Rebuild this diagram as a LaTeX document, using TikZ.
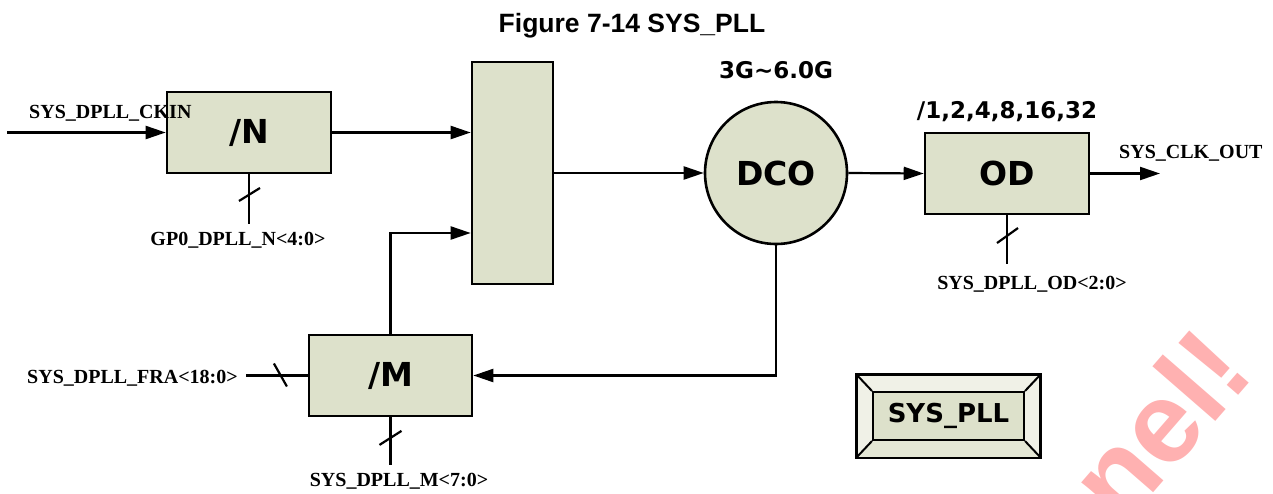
\documentclass[tikz,border=0pt]{standalone}
\usepackage{fontspec}
\setmainfont{Liberation Serif}
\newfontfamily\djv{DejaVu Sans}
\newfontfamily\arl{Liberation Sans}
\usepackage{tikz}
\usetikzlibrary{arrows.meta,positioning,calc}
\definecolor{bxFill}{HTML}{DDE1CB}
\definecolor{bxLight}{HTML}{F0F1E7}
\definecolor{wmPink}{HTML}{FFB1B1}
\tikzset{
  blk/.style  = {draw=black, line width=2.6pt, fill=bxFill, inner sep=0pt,
                 font=\djv\bfseries\fontsize{33}{36}\selectfont},
  sig/.style  = {font=\bfseries\fontsize{20}{22}\selectfont, inner sep=1pt},
  ann/.style  = {font=\djv\bfseries\fontsize{23}{26}\selectfont, inner sep=0pt},
  ar/.style   = {-{Triangle[length=20pt,width=13pt]}, line width=2.2pt},
  bus/.style  = {line width=2.2pt, shorten >=7pt},
  tk/.style   = {line width=2.2pt},
}

\begin{document}
\begin{tikzpicture}[x=1pt, y=-1pt]
  \useasboundingbox (0,0) rectangle (1273,493);
  \node[font=\arl\bfseries\fontsize{26.5}{30}\selectfont, anchor=base] (ttl) at (632,32) {Figure 7-14 SYS\_PLL};

  % blocks
  \node[blk, minimum width=164pt, minimum height=81pt] (nbox) at (249,132.5) {/N};
  \node[blk, minimum width=81pt, minimum height=222pt] (mux) at (512.5,173) {};
  \node[blk, circle, minimum size=142pt] (dco) at (776,173) {DCO};
  \node[blk, minimum width=164pt, minimum height=81pt] (odbox) at (1007,173.5) {OD};
  \node[blk, minimum width=163pt, minimum height=81pt] (mbox) at (390.5,375.5) {/M};

  % labels
  \node[sig, anchor=base west] (ckin) at (28,118) {SYS\_DPLL\_CKIN};
  \node[sig, anchor=base] (gpn) at (238,245) {GP0\_DPLL\_N<4:0>};
  \node[sig, anchor=base east] (fra) at (239,383) {SYS\_DPLL\_FRA<18:0>};
  \node[sig, anchor=base] (msel) at (399,486) {SYS\_DPLL\_M<7:0>};
  \node[sig, anchor=base] (odsel) at (1032,289) {SYS\_DPLL\_OD<2:0>};
  \node[sig, anchor=base west] (cko) at (1118,158) {SYS\_CLK\_OUT};
  \node[ann, anchor=base] (frq) at (776,78) {3G\textasciitilde6.0G};
  \node[ann, anchor=base] (div) at (1007,118) {/1,2,4,8,16,32};

  \coordinate (cin) at (7,132.5);
  \coordinate (cout) at (1160,173.5);

  % signal path
  \draw[ar] (cin) -- (nbox.west);
  \draw[ar] (nbox.east) -- (nbox.east -| mux.west);
  \draw[ar] (mbox.north) |- ([yshift=-60pt]mux.west);
  \draw[ar] (mux.east) -- (dco.west);
  \draw[ar] (dco.east) -- (odbox.west);
  \draw[ar] (odbox.east) -- (cout);
  \draw[ar] (dco.south) |- (mbox.east);

  % buses
  \draw[bus] (nbox.south) -- (nbox.south |- gpn.north) coordinate[pos=0.35] (tn);
  \draw[bus] (mbox.south) -- (mbox.south |- msel.north) coordinate[pos=0.38] (tm);
  \draw[bus, shorten >=11pt] (odbox.south) -- (odbox.south |- odsel.north) coordinate[pos=0.35] (tod);
  \draw[bus] (mbox.west) -- (mbox.west -| fra.east) coordinate[pos=0.39] (tf);
  \draw[tk] ($(tn)+(-10,7)$) -- ($(tn)+(11,-6)$);
  \draw[tk] ($(tm)+(-11,7)$) -- ($(tm)+(11,-7)$);
  \draw[tk] ($(tod)+(-10,7)$) -- ($(tod)+(11,-8)$);
  \draw[tk] ($(tf)+(-7,-12)$) -- ($(tf)+(6,11)$);

  % SYS_PLL symbol
  \node[draw=black, line width=2pt, fill=bxLight, minimum width=183pt, minimum height=82pt] (pllo) at (948.5,416) {};
  \fill[bxFill!80] (pllo.south west) -- (pllo.south east) -- ++(-16,-17) -- ++(-151,0) -- cycle;
  \node[blk, line width=2pt, minimum width=151pt, minimum height=48pt,
        font=\djv\bfseries\fontsize{26}{30}\selectfont] (pll) at (948.5,416) {SYS\_PLL};
  \foreach \c in {north west, north east, south west, south east}
    \draw[line width=2pt] (pllo.\c) -- (pll.\c);
  \draw[line width=2pt] (pllo.south west) rectangle (pllo.north east);

  % watermark
  \begin{scope}
    \clip (0,0) rectangle (1273,493);
    \node[font=\arl\bfseries\fontsize{115}{115}\selectfont, text=wmPink, rotate=49,
          anchor=base east, inner sep=0pt] (wm) at (1257,374) {nel!};
  \end{scope}
\end{tikzpicture}
\end{document}
